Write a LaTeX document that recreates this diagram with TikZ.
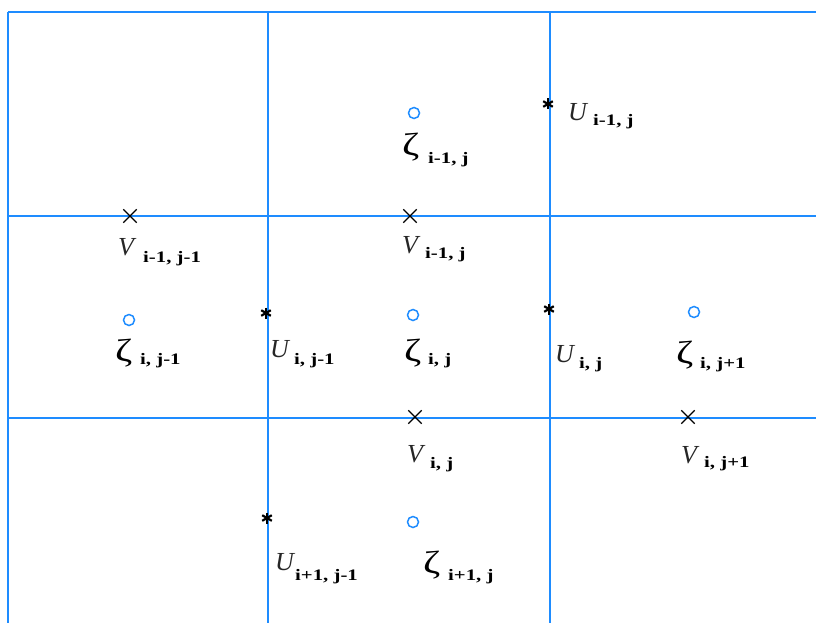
\documentclass[tikz,border=0pt]{standalone}
\usepackage{fontspec}
\usepackage{graphicx}
\setmainfont{Liberation Serif}
\usetikzlibrary{shapes.misc}
\definecolor{gridblue}{RGB}{30,140,255}
\newcommand{\subtxt}[1]{\scalebox{1.3}[1]{\fontsize{16}{16}\selectfont\bfseries #1}}
\newcommand{\zetatxt}{\scalebox{1.3}[1]{\fontsize{32}{32}\selectfont ζ}}
\tikzset{
  gridline/.style={draw=gridblue, line width=1.8pt},
  circmark/.style={circle, draw=gridblue, line width=1.5pt, minimum size=11pt, inner sep=0pt},
  xmark/.style={cross out, draw=black, line width=1.3pt, minimum size=12pt, inner sep=0pt},
  letterlab/.style={anchor=base west, inner sep=0pt, font=\fontsize{26}{26}\selectfont\itshape, text=black!85},
  zetalab/.style={anchor=base west, inner sep=0pt, text=black},
  sublab/.style={anchor=base west, inner sep=0pt, text=black},
  starmark/.pic={
    \draw[line width=2.2pt, black] (0,-5.5) -- (0,5.5);
    \draw[line width=2.2pt, black] (-4.8,-2.8) -- (4.8,2.8);
    \draw[line width=2.2pt, black] (-4.8,2.8) -- (4.8,-2.8);
  }
}
\begin{document}
\begin{tikzpicture}[x=1pt, y=-1pt]
\useasboundingbox (0,0) rectangle (816,623);
% grid
\coordinate (vl1t) at (8,12);   \coordinate (vl1b) at (8,623);
\coordinate (vl2t) at (268,12); \coordinate (vl2b) at (268,623);
\coordinate (vl3t) at (550,12); \coordinate (vl3b) at (550,623);
\coordinate (hl1l) at (8,12);   \coordinate (hl1r) at (816,12);
\coordinate (hl2l) at (8,216);  \coordinate (hl2r) at (816,216);
\coordinate (hl3l) at (8,418);  \coordinate (hl3r) at (816,418);
\draw[gridline] (vl1t) -- (vl1b);
\draw[gridline] (vl2t) -- (vl2b);
\draw[gridline] (vl3t) -- (vl3b);
\draw[gridline] (hl1l) -- (hl1r);
\draw[gridline] (hl2l) -- (hl2r);
\draw[gridline] (hl3l) -- (hl3r);
% circles (zeta points)
\node[circmark] (c1) at (414,113) {};
\node[circmark] (c2) at (129,320) {};
\node[circmark] (c3) at (413,315) {};
\node[circmark] (c4) at (694,312) {};
\node[circmark] (c5) at (413,522) {};
% crosses (V points)
\node[xmark] (x1) at (130,216) {};
\node[xmark] (x2) at (410,216) {};
\node[xmark] (x3) at (415,417) {};
\node[xmark] (x4) at (688,417) {};
% asterisks (U points)
\pic at (548,104) {starmark};
\pic at (266,313) {starmark};
\pic at (549,309) {starmark};
\pic at (267,518) {starmark};
% labels
\node[zetalab] (zl1) at (402,155) {\zetatxt};
\node[sublab] (zs1) at (428,163) {\subtxt{i-1, j}};
\node[letterlab] (ul1) at (568,121) {U};
\node[sublab] (us1) at (593,125) {\subtxt{i-1, j}};
\node[letterlab] (vl1) at (118,255) {V};
\node[sublab] (vs1) at (143,262) {\subtxt{i-1, j-1}};
\node[letterlab] (vl2) at (402,253) {V};
\node[sublab] (vs2) at (425,258) {\subtxt{i-1, j}};
\node[zetalab] (zl2) at (115,361) {\zetatxt};
\node[sublab] (zs2) at (140,364) {\subtxt{i, j-1}};
\node[letterlab] (ul2) at (270,357) {U};
\node[sublab] (us2) at (294,364) {\subtxt{i, j-1}};
\node[zetalab] (zl3) at (404,361) {\zetatxt};
\node[sublab] (zs3) at (428,364) {\subtxt{i, j}};
\node[letterlab] (ul3) at (555,362) {U};
\node[sublab] (us3) at (579,368) {\subtxt{i, j}};
\node[zetalab] (zl4) at (676,363) {\zetatxt};
\node[sublab] (zs4) at (700,368) {\subtxt{i, j+1}};
\node[letterlab] (vl3) at (407,462) {V};
\node[sublab] (vs3) at (430,468) {\subtxt{i, j}};
\node[letterlab] (vl4) at (681,463) {V};
\node[sublab] (vs4) at (704,467) {\subtxt{i, j+1}};
\node[letterlab] (ul4) at (275,570) {U};
\node[sublab] (us4) at (295,580) {\subtxt{i+1, j-1}};
\node[zetalab] (zl5) at (423,573) {\zetatxt};
\node[sublab] (zs5) at (448,580) {\subtxt{i+1, j}};
\end{tikzpicture}
\end{document}
